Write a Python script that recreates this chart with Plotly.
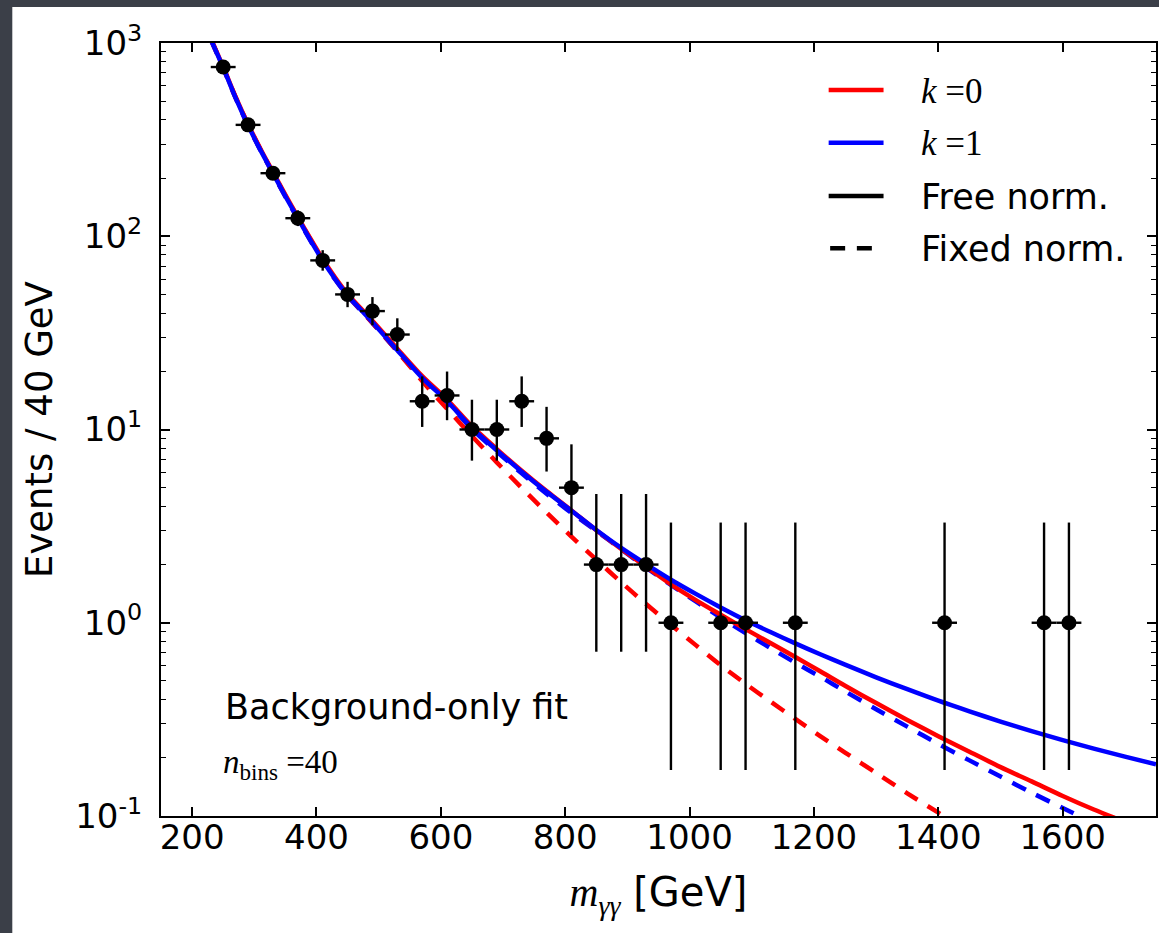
import plotly.graph_objects as go

# Observed diphoton spectrum: 40 GeV bins (centres in GeV) and event counts
bin_centers = [250, 290, 330, 370, 410, 450, 490, 530, 570, 610, 650, 690, 730,
               770, 810, 850, 890, 930, 970, 1050, 1090, 1170, 1410, 1570, 1610]
counts = [751, 377, 212, 124, 75, 50, 41, 31, 14, 15, 10, 10, 14,
          9, 5, 2, 2, 2, 1, 1, 1, 1, 1, 1, 1]
# Poisson (Garwood) 68% intervals: distance below and above each count
err_low = [27.4, 19.4, 14.55, 11.12, 8.64, 7.05, 6.37, 5.53, 3.69, 3.83, 3.10, 3.10, 3.69,
           2.94, 2.16, 1.292, 1.292, 1.292, 0.827, 0.827, 0.827, 0.827, 0.827, 0.827, 0.827]
err_high = [28.4, 20.4, 15.58, 12.16, 9.70, 8.11, 7.45, 6.62, 4.83, 4.95, 4.26, 4.26, 4.83,
            4.10, 3.38, 2.638, 2.638, 2.638, 2.300, 2.300, 2.300, 2.300, 2.300, 2.300, 2.300]
bin_half_width = 20

# Background fit functions evaluated on a mass grid (GeV)
fit_mass = [230, 250, 270, 290, 310, 330, 350, 370, 390, 410, 430, 450, 490, 530, 570,
            610, 650, 690, 730, 770, 810, 850, 890, 930, 970, 1010, 1050, 1090, 1130,
            1170, 1210, 1250, 1300, 1350, 1400, 1450, 1500, 1550, 1600, 1650, 1700, 1750]
k0_free = [1055, 752, 526, 380, 283, 215, 164, 126, 97.5, 76.2, 61.2, 50.3, 36.5, 26.2, 18.9,
           14.3, 10.4, 7.92, 6.12, 4.80, 3.81, 3.01, 2.41, 1.95, 1.58, 1.31, 1.10, 0.927, 0.785,
           0.665, 0.561, 0.472, 0.384, 0.314, 0.259, 0.215, 0.179, 0.151, 0.127, 0.108, 0.093, 0.080]
k1_free = [1047, 745, 520, 375, 279, 212, 161, 124, 95.7, 74.8, 60.1, 49.5, 35.9, 25.7, 18.5,
           14.0, 10.2, 7.80, 6.05, 4.76, 3.80, 3.02, 2.44, 2.01, 1.67, 1.41, 1.20, 1.03, 0.895,
           0.782, 0.687, 0.607, 0.522, 0.453, 0.395, 0.348, 0.308, 0.275, 0.247, 0.223, 0.203, 0.185]
k0_fixed = [1050, 748, 523, 377, 281, 213, 162, 125, 96.5, 75.3, 60.4, 49.5, 35.6, 25.4, 17.8,
            12.8, 9.25, 6.76, 4.99, 3.72, 2.79, 2.12, 1.62, 1.25, 0.977, 0.766, 0.603, 0.483, 0.391,
            0.318, 0.259, 0.213, 0.167, 0.131, 0.104, 0.0824, 0.066]
k1_fixed = [1040, 742, 518, 373, 278, 211, 160, 123, 95.1, 74.3, 59.7, 49.1, 35.6, 25.4, 18.3,
            13.8, 10.05, 7.68, 5.93, 4.65, 3.70, 2.99, 2.40, 1.93, 1.57, 1.29, 1.064, 0.885, 0.740,
            0.621, 0.526, 0.442, 0.357, 0.290, 0.236, 0.194, 0.160, 0.132, 0.110, 0.092, 0.0775, 0.065]

x_ticks = [200, 400, 600, 800, 1000, 1200, 1400, 1600]
y_tick_vals = [0.1, 1, 10, 100, 1000]
y_tick_text = ["10<sup>-1</sup>", "10<sup>0</sup>", "10<sup>1</sup>", "10<sup>2</sup>", "10<sup>3</sup>"]

RED = "#ff0000"
BLUE = "#0000ff"
DASH = "15px,11.7px"
LW = 4.5
SERIF = "Liberation Serif"
X_RANGE = [150, 1750]

fig = go.Figure()

curves = [
    (k1_fixed, BLUE, DASH),
    (k0_fixed, RED, DASH),
    (k0_free, RED, "solid"),
    (k1_free, BLUE, "solid"),
]
for values, color, dash in curves:
    fig.add_trace(go.Scatter(
        x=fit_mass[:len(values)], y=values, mode="lines",
        line=dict(color=color, width=LW, dash=dash, shape="spline", smoothing=0.8),
        hoverinfo="skip",
    ))

# data points sit on the labelled copy of the mass axis (same scale as x)
fig.add_trace(go.Scatter(
    x=bin_centers, y=counts, mode="markers", xaxis="x2", yaxis="y",
    marker=dict(color="black", size=15),
    error_y=dict(type="data", symmetric=False, array=err_high, arrayminus=err_low,
                 color="black", thickness=2.4, width=0),
    error_x=dict(type="constant", value=bin_half_width, color="black", thickness=2.4, width=0),
))

# Plot-area geometry in pixels, used to place legend keys and labels
L, R, T, B = 161, 1158, 43, 816


def px_x(p):
    return (p - L) / (R - L)


def px_y(p):
    return (B - p) / (B - T)


shapes = [
    # white sheet over the dark slide background
    dict(type="rect", xref="paper", yref="paper", layer="below",
         x0=px_x(12), x1=px_x(1175), y0=px_y(950), y1=px_y(7),
         fillcolor="white", line=dict(width=0)),
]
legend_rows = [
    ("<i>k</i> =0", RED, "solid", 90, SERIF),
    ("<i>k</i> =1", BLUE, "solid", 142.7, SERIF),
    ("Free norm.", "black", "solid", 196, "DejaVu Sans"),
    ("Fixed norm.", "black", DASH, 248.3, "DejaVu Sans"),
]
annotations = []
for label, color, dash, row_y, family in legend_rows:
    x0, x1 = (830, 885) if dash == "solid" else (831.5, 884)
    shapes.append(dict(type="line", xref="paper", yref="paper",
                       x0=px_x(x0), x1=px_x(x1), y0=px_y(row_y), y1=px_y(row_y),
                       line=dict(color=color, width=LW, dash=dash)))
    annotations.append(dict(xref="paper", yref="paper", x=px_x(921), y=px_y(row_y + 1),
                            xanchor="left", yanchor="middle", showarrow=False, text=label,
                            font=dict(family=family, size=35, color="black")))

annotations.append(dict(xref="paper", yref="paper", x=px_x(223), y=px_y(707),
                        xanchor="left", yanchor="middle", showarrow=False,
                        text="Background-only fit",
                        font=dict(family="DejaVu Sans", size=35, color="black")))
annotations.append(dict(xref="paper", yref="paper", x=px_x(221), y=px_y(764),
                        xanchor="left", yanchor="middle", showarrow=False,
                        text="<i>n</i><sub>bins</sub> =40",
                        font=dict(family=SERIF, size=33, color="black")))

fig.update_layout(
    width=1159, height=933,
    margin=dict(l=L, r=1159 - R, t=T, b=933 - B),
    paper_bgcolor="#3b3f48",
    plot_bgcolor="white",
    showlegend=False,
    font=dict(family="DejaVu Sans", size=34, color="black"),
    shapes=shapes,
    annotations=annotations,
)

axis_style = dict(
    ticks="inside", ticklen=9, tickwidth=1.6, tickcolor="black",
    showline=True, linecolor="black", linewidth=2, mirror="ticks",
    showgrid=False, zeroline=False,
    tickfont=dict(family="DejaVu Sans", size=34, color="black"),
)

# frame and tick marks of the mass axis
fig.update_xaxes(range=X_RANGE, tickmode="array", tickvals=x_ticks,
                 showticklabels=False, **axis_style)
# tick labels and title of the mass axis, set slightly closer to the frame
fig.update_layout(xaxis2=dict(
    overlaying="x", matches="x", range=X_RANGE, anchor="free", position=0.0026, side="bottom",
    tickmode="array", tickvals=x_ticks, ticks="", showline=False, showgrid=False, zeroline=False,
    tickfont=dict(family="DejaVu Sans", size=34, color="black"),
    title=dict(
        text=f"<span style=\"font-family:'{SERIF}'\"><i>m</i><sub><i>γγ</i></sub></span> [GeV]",
        font=dict(family="DejaVu Sans", size=40, color="black"), standoff=22),
))
fig.update_yaxes(
    type="log", range=[-1, 3], tickmode="array", tickvals=y_tick_vals, ticktext=y_tick_text,
    ticklabelstandoff=10,
    minor=dict(ticks="inside", ticklen=5, tickwidth=1.2, tickcolor="black", dtick="D1", showgrid=False),
    title=dict(text="Events / 40 GeV", font=dict(family="DejaVu Sans", size=37, color="black"),
               standoff=11),
    **axis_style,
)

fig.write_html("out.html")
